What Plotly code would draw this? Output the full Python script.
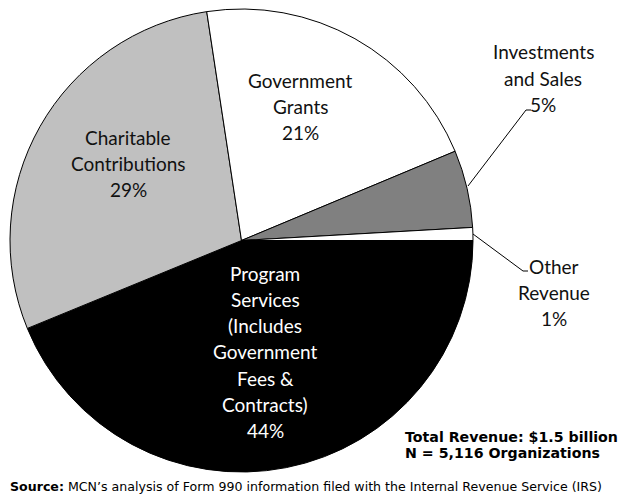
import plotly.graph_objects as go

# ---- data ----
categories = ["Program Services (Includes Government Fees & Contracts)",
              "Charitable Contributions", "Government Grants",
              "Investments and Sales", "Other Revenue"]
shares = [43.8, 28.8, 21.1, 5.4, 0.9]
label_lines = [["Program", "Services", "(Includes", "Government", "Fees &", "Contracts)"],
               ["Charitable", "Contributions"],
               ["Government", "Grants"],
               ["Investments", "and Sales"],
               ["Other", "Revenue"]]
slice_colors = ["#000000", "#c0c0c0", "#ffffff", "#808080", "#ffffff"]
text_colors = ["#ffffff", "#111111", "#111111", "#111111", "#111111"]
# label anchor (pixel x, pixel y of first line)
label_pos = [(265, 273), (128, 137), (300, 80), (543, 52), (554, 266)]
line_gap = 26.3

W, H = 630, 500
OFF = 8  # page body margin
FONT = "Lato"

def px(x):
    return (x - OFF) / W

def py(y):
    return 1 - (y - OFF) / H

total = sum(shares)
pct = [f"{round(v / total * 100)}%" for v in shares]

fig = go.Figure(go.Pie(
    labels=categories, values=shares, sort=False, direction="clockwise",
    rotation=90, textinfo="none", hoverinfo="label+percent",
    marker=dict(colors=slice_colors, line=dict(color="#000000", width=1)),
    domain=dict(x=[px(10), px(473)], y=[py(472), py(9)]),
    showlegend=False,
))

annotations = []
for lines, p, (x0, y0), tc in zip(label_lines, pct, label_pos, text_colors):
    for i, t in enumerate(lines + [p]):
        annotations.append(dict(
            x=px(x0), y=py(y0 + i * line_gap), xref="paper", yref="paper",
            text=t, showarrow=False, xanchor="center", yanchor="middle",
            font=dict(family=FONT, size=19, color=tc)))

for txt, yy in [("Total Revenue: $1.5 billion", 437), ("N = 5,116 Organizations", 453)]:
    annotations.append(dict(
        x=px(403), y=py(yy), xref="paper", yref="paper",
        text=f"<b>{txt}</b>",
        showarrow=False, xanchor="left", yanchor="middle", align="left",
        font=dict(family="DejaVu Sans", size=14.2, color="#000000")))
annotations.append(dict(
    x=px(OFF), y=py(486), xref="paper", yref="paper",
    text="<b>Source:</b> MCN\u2019s analysis of Form 990 information filed with the Internal Revenue Service (IRS)",
    showarrow=False, xanchor="left", yanchor="middle", align="left",
    font=dict(family="DejaVu Sans", size=12.6, color="#000000")))

shapes = [
    dict(type="path", xref="paper", yref="paper",
         path=f"M {px(468)} {py(186)} L {px(526)} {py(110)} L {px(531)} {py(110)}",
         line=dict(color="#000000", width=1)),
    dict(type="path", xref="paper", yref="paper",
         path=f"M {px(473)} {py(234)} L {px(523)} {py(271)} L {px(528)} {py(271)}",
         line=dict(color="#000000", width=1)),
]

fig.update_layout(
    width=W, height=H, margin=dict(l=0, r=0, t=0, b=0),
    paper_bgcolor="#ffffff", plot_bgcolor="#ffffff",
    annotations=annotations, shapes=shapes,
)
fig.write_html("out.html")
